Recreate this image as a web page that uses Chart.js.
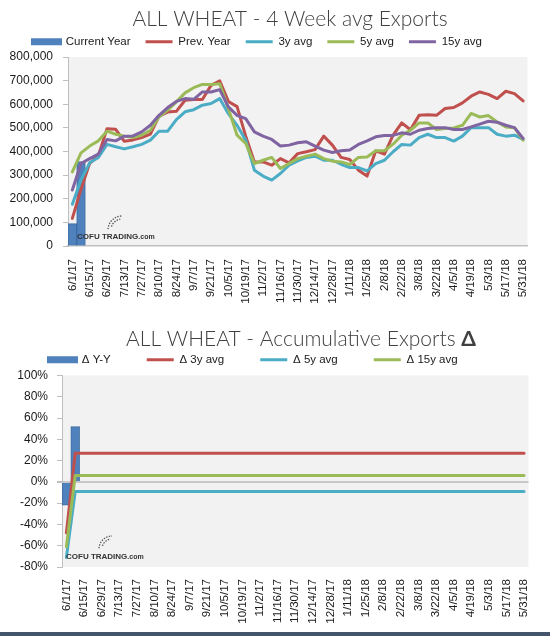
<!DOCTYPE html>
<html>
<head>
<meta charset="utf-8">
<script src="https://cdn.jsdelivr.net/npm/chart.js@4.4.1/dist/chart.umd.min.js"></script>
<style>
  html, body { margin: 0; padding: 0; background: #fff; }
  body { width: 550px; height: 636px; position: relative; overflow: hidden; }
  canvas { display: block; position: absolute; left: 0; }
  #weeklyChart { top: 0; }
  #deltaChart { top: 316px; }
  #frame { position: absolute; left: 0; top: 632px; width: 550px; height: 4px; background: #44546a; }
</style>
</head>
<body>
<canvas id="weeklyChart" width="550" height="316"></canvas>
<canvas id="deltaChart" width="550" height="316"></canvas>
<div id="frame"></div>
<script>
// Weekly categories (labels shown every other week)
const weeks = ['6/1/17', '6/8/17', '6/15/17', '6/22/17', '6/29/17', '7/6/17', '7/13/17', '7/20/17', '7/27/17',
  '8/3/17', '8/10/17', '8/17/17', '8/24/17', '8/31/17', '9/7/17', '9/14/17', '9/21/17', '9/28/17',
  '10/5/17', '10/12/17', '10/19/17', '10/26/17', '11/2/17', '11/9/17', '11/16/17', '11/23/17', '11/30/17',
  '12/7/17', '12/14/17', '12/21/17', '12/28/17', '1/4/18', '1/11/18', '1/18/18', '1/25/18', '2/1/18',
  '2/8/18', '2/15/18', '2/22/18', '3/1/18', '3/8/18', '3/15/18', '3/22/18', '3/29/18', '4/5/18',
  '4/12/18', '4/19/18', '4/26/18', '5/3/18', '5/10/18', '5/17/18', '5/24/18', '5/31/18'];

// 4 week avg exports
const currentYear = [95000, 357000];
const prevYear = [117000, 240000, 350000, 382000, 496000, 494000, 443000, 449000, 459000, 474000,
  550000, 567000, 570000, 617000, 620000, 620000, 680000, 699000, 612000, 590000,
  465000, 356000, 356000, 342000, 370000, 352000, 391000, 399000, 408000, 465000,
  427000, 375000, 366000, 321000, 296000, 403000, 389000, 469000, 521000, 492000,
  553000, 556000, 553000, 582000, 586000, 606000, 634000, 652000, 642000, 624000,
  655000, 645000, 614000];
const avg3y = [177000, 279000, 352000, 375000, 430000, 420000, 411000, 420000, 430000, 448000,
  486000, 486000, 535000, 568000, 577000, 596000, 603000, 624000, 560000, 511000,
  448000, 321000, 296000, 279000, 307000, 342000, 360000, 375000, 380000, 363000,
  363000, 346000, 332000, 332000, 318000, 349000, 363000, 399000, 430000, 427000,
  459000, 473000, 459000, 459000, 444000, 465000, 501000, 501000, 501000, 473000,
  465000, 469000, 451000];
const avg5y = [314000, 394000, 423000, 445000, 486000, 473000, 465000, 459000, 469000, 490000,
  546000, 575000, 610000, 648000, 670000, 684000, 684000, 687000, 582000, 469000,
  434000, 349000, 363000, 375000, 328000, 349000, 370000, 380000, 389000, 370000,
  359000, 356000, 345000, 375000, 377000, 403000, 403000, 431000, 469000, 490000,
  521000, 521000, 493000, 497000, 500000, 511000, 561000, 546000, 552000, 525000,
  504000, 501000, 448000];
const avg15y = [237000, 349000, 370000, 389000, 451000, 445000, 465000, 466000, 483000, 511000,
  553000, 586000, 612000, 624000, 621000, 652000, 652000, 662000, 589000, 553000,
  539000, 483000, 465000, 451000, 423000, 427000, 437000, 441000, 423000, 406000,
  396000, 403000, 406000, 430000, 445000, 462000, 468000, 468000, 479000, 473000,
  490000, 497000, 501000, 501000, 493000, 493000, 504000, 516000, 528000, 524000,
  511000, 501000, 455000];

// Accumulative exports delta (%)
const deltaYY = [-22, 52];
const delta3y = [-48, 27, 27, 27, 27, 27, 27, 27, 27, 27, 27, 27, 27, 27, 27, 27, 27, 27, 27, 27,
  27, 27, 27, 27, 27, 27, 27, 27, 27, 27, 27, 27, 27, 27, 27, 27, 27, 27, 27, 27,
  27, 27, 27, 27, 27, 27, 27, 27, 27, 27, 27, 27, 27];
const delta5y = [-71, -9, -9, -9, -9, -9, -9, -9, -9, -9, -9, -9, -9, -9, -9, -9, -9, -9, -9, -9,
  -9, -9, -9, -9, -9, -9, -9, -9, -9, -9, -9, -9, -9, -9, -9, -9, -9, -9, -9, -9,
  -9, -9, -9, -9, -9, -9, -9, -9, -9, -9, -9, -9, -9];
const delta15y = [-61, 6, 6, 6, 6, 6, 6, 6, 6, 6, 6, 6, 6, 6, 6, 6, 6, 6, 6, 6,
  6, 6, 6, 6, 6, 6, 6, 6, 6, 6, 6, 6, 6, 6, 6, 6, 6, 6, 6, 6,
  6, 6, 6, 6, 6, 6, 6, 6, 6, 6, 6, 6, 6];

const BLUE = '#4f81bd', RED = '#c0504d', CYAN = '#4bacc6', GREEN = '#9bbb59', PURPLE = '#8064a2';
const TEXT = '#1a1a1a';
const AXIS = '#bfbfbf';

Chart.defaults.font.family = '"Liberation Sans", Arial, sans-serif';
Chart.defaults.color = TEXT;

// gray plot area like the Excel sheet
const plotBackground = {
  id: 'plotBackground',
  beforeDraw(chart) {
    const { ctx, chartArea: a } = chart;
    ctx.save();
    ctx.fillStyle = '#f2f2f2';
    ctx.fillRect(a.left, a.top, a.width, a.height);
    ctx.restore();
  },
};

// title drawn by hand so the delta sign can be bold
function sheetTitle(parts, center, baseline) {
  return {
    id: 'sheetTitle',
    afterDraw(chart) {
      const { ctx } = chart;
      ctx.save();
      ctx.fillStyle = '#404040';
      ctx.textAlign = 'left';
      ctx.textBaseline = 'alphabetic';
      const fonts = parts.map((p) => `${p.bold ? 'bold' : '300'} 21px Lato, sans-serif`);
      const widths = parts.map((p, i) => { ctx.font = fonts[i]; return ctx.measureText(p.text).width; });
      let x = center - widths.reduce((s, w) => s + w, 0) / 2;
      parts.forEach((p, i) => {
        ctx.font = fonts[i];
        ctx.fillText(p.text, x, baseline);
        x += widths[i];
      });
      ctx.restore();
    },
  };
}

// nudge the legend sideways, Excel doesn't center it
function legendShift(dx) {
  return {
    id: 'legendShift',
    afterLayout(chart) {
      if (chart.legend) {
        chart.legend.left += dx;
        chart.legend.right += dx;
      }
    },
  };
}

// COFU TRADING watermark
function watermark(textDx, textDy, logoDx, logoDy, r) {
  return {
    id: 'watermark',
    afterDraw(chart) {
      const { ctx, chartArea: a } = chart;
      ctx.save();
      ctx.strokeStyle = '#555';
      ctx.lineWidth = 1.3;
      ctx.setLineDash([1.4, 1.3]);
      ctx.beginPath();
      ctx.arc(a.left + logoDx, a.bottom - logoDy, r, Math.PI * 1.02, Math.PI * 1.5);
      ctx.stroke();
      ctx.beginPath();
      ctx.arc(a.left + logoDx, a.bottom - logoDy, r - 3, Math.PI * 1.1, Math.PI * 1.45);
      ctx.stroke();
      ctx.setLineDash([]);
      ctx.fillStyle = '#333';
      ctx.textBaseline = 'alphabetic';
      ctx.font = 'bold 8px "Liberation Sans", Arial, sans-serif';
      const x = a.left + textDx;
      const y = a.bottom - textDy;
      ctx.fillText('COFU TRADING', x, y);
      const w = ctx.measureText('COFU TRADING').width;
      ctx.font = 'bold 7px "Liberation Sans", Arial, sans-serif';
      ctx.fillText('.com', x + w, y);
      ctx.restore();
    },
  };
}

function legendLabels(chart) {
  return chart.data.datasets.map((ds, i) => {
    const isBar = ds.type === 'bar';
    const color = isBar ? ds.backgroundColor : ds.borderColor;
    return {
      text: ds.label,
      fillStyle: color,
      strokeStyle: color,
      lineWidth: isBar ? 4 : 0,
      fontColor: TEXT,
      hidden: false,
      datasetIndex: i,
    };
  });
}

const everyOther = function (value, index) {
  return index % 2 === 0 ? this.getLabelForValue(value) : '';
};

function lineSet(label, data, color, order) {
  return {
    type: 'line',
    label,
    data,
    borderColor: color,
    backgroundColor: color,
    borderWidth: 3,
    pointRadius: 0,
    tension: 0,
    borderJoinStyle: 'round',
    borderCapStyle: 'round',
    order,
  };
}

// Top chart: 4 week avg exports
new Chart(document.getElementById('weeklyChart'), {
  data: {
    labels: weeks,
    datasets: [
      {
        type: 'bar',
        label: 'Current Year',
        data: currentYear,
        backgroundColor: BLUE,
        borderColor: '#3f6c9f',
        borderWidth: 1,
        barPercentage: 1,
        categoryPercentage: 1,
        order: 5,
      },
      lineSet('Prev. Year', prevYear, RED, 4),
      lineSet('3y avg', avg3y, CYAN, 3),
      lineSet('5y avg', avg5y, GREEN, 2),
      lineSet('15y avg', avg15y, PURPLE, 1),
    ],
  },
  options: {
    responsive: false,
    animation: false,
    layout: { padding: { top: 21, left: 0, right: 8, bottom: 0 } },
    plugins: {
      legend: {
        position: 'top',
        align: 'start',
        maxHeight: 36,
        labels: { boxWidth: 27, boxHeight: 3, padding: 15, font: { size: 11.5 }, generateLabels: legendLabels },
      },
      tooltip: { enabled: false },
    },
    scales: {
      x: {
        grid: { display: false, drawTicks: false },
        border: { display: true, color: AXIS, width: 1.5 },
        ticks: { autoSkip: false, minRotation: 90, maxRotation: 90, padding: 13, font: { size: 11.5 }, callback: everyOther },
        afterFit(scale) { scale.height = 70; },
      },
      y: {
        min: 0,
        max: 800000,
        grid: { drawOnChartArea: false, tickLength: 5, color: AXIS },
        border: { display: true, color: AXIS },
        ticks: { stepSize: 100000, padding: 10, font: { size: 12 }, callback: (v) => v.toLocaleString('en-US') },
        afterFit(scale) { scale.width = 68; },
      },
    },
  },
  plugins: [plotBackground, legendShift(18), sheetTitle([{ text: 'ALL WHEAT - 4 Week avg Exports' }], 290, 26), watermark(9, 7, 54, 16, 14)],
});

// Bottom chart: accumulative exports delta
new Chart(document.getElementById('deltaChart'), {
  data: {
    labels: weeks,
    datasets: [
      {
        type: 'bar',
        label: 'Δ Y-Y',
        data: deltaYY,
        backgroundColor: BLUE,
        borderColor: '#3f6c9f',
        borderWidth: 1,
        barPercentage: 1,
        categoryPercentage: 1,
        order: 4,
      },
      lineSet('Δ 3y avg', delta3y, RED, 3),
      lineSet('Δ 5y avg', delta5y, CYAN, 2),
      lineSet('Δ 15y avg', delta15y, GREEN, 1),
    ],
  },
  options: {
    responsive: false,
    animation: false,
    layout: { padding: { top: 2, left: 0, right: 16, bottom: 0 } },
    plugins: {
      legend: {
        position: 'top',
        align: 'start',
        maxHeight: 58,
        labels: { boxWidth: 27, boxHeight: 3, padding: 36, font: { size: 11.5 }, generateLabels: legendLabels },
      },
      tooltip: { enabled: false },
    },
    scales: {
      x: {
        grid: { display: false, drawTicks: false },
        border: { display: false },
        ticks: { autoSkip: false, minRotation: 90, maxRotation: 90, padding: 12, font: { size: 11.5 }, callback: everyOther },
        afterFit(scale) { scale.height = 65; },
      },
      y: {
        min: -80,
        max: 100,
        grid: {
          tickLength: 5,
          tickColor: AXIS,
          lineWidth: (ctx) => (ctx.tick && ctx.tick.value === 0 ? 2 : 1),
          color: (ctx) => (ctx.tick && ctx.tick.value === 0 ? '#c8c8c8' : 'transparent'),
        },
        border: { display: true, color: AXIS },
        ticks: { stepSize: 20, padding: 9, font: { size: 12 }, callback: (v) => v + '%' },
        afterFit(scale) { scale.width = 62; },
      },
    },
  },
  plugins: [plotBackground, legendShift(13), sheetTitle([{ text: 'ALL WHEAT - Accumulative Exports ' }, { text: 'Δ', bold: true }], 301, 30), watermark(4, 8, 50, 18, 13)],
});
</script>
</body>
</html>
